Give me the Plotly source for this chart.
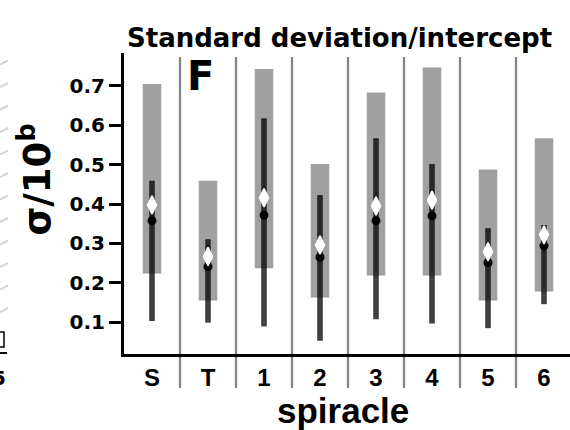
import plotly.graph_objects as go

categories = ["S", "T", "1", "2", "3", "4", "5", "6"]
# light gray range (bar) low/high
range_low = [0.224, 0.155, 0.237, 0.163, 0.219, 0.219, 0.155, 0.178]
range_high = [0.705, 0.459, 0.743, 0.502, 0.683, 0.747, 0.488, 0.567]
# dark interval low/high
ci_low = [0.103, 0.099, 0.089, 0.053, 0.108, 0.097, 0.085, 0.146]
ci_high = [0.459, 0.311, 0.618, 0.423, 0.567, 0.502, 0.339, 0.347]
# point estimates
dot_vals = [0.358, 0.241, 0.372, 0.265, 0.358, 0.370, 0.251, 0.294]
diamond_vals = [0.398, 0.267, 0.416, 0.296, 0.395, 0.410, 0.279, 0.322]
y_ticks = [0.1, 0.2, 0.3, 0.4, 0.5, 0.6, 0.7]

x = list(range(len(categories)))

# plot area in pixels (for decorations outside the data area)
L, R, T, B = 124, 570, 53, 354


def px(xp):
    return (xp - L) / (R - L)


def py(yp):
    return (B - yp) / (B - T)


fig = go.Figure()
fig.add_trace(go.Bar(
    x=x, base=range_low, y=[h - l for h, l in zip(range_high, range_low)],
    width=0.33, marker=dict(color="#a0a0a0", line=dict(width=0)), hoverinfo="skip"))
fig.add_trace(go.Bar(
    x=x, base=ci_low, y=[h - l for h, l in zip(ci_high, ci_low)],
    width=0.1, marker=dict(color="rgba(0,0,0,0.75)", line=dict(width=0)), hoverinfo="skip"))
fig.add_trace(go.Scatter(
    x=x, y=dot_vals, mode="markers",
    marker=dict(symbol="circle", size=9, color="black", line=dict(width=0))))
fig.add_trace(go.Scatter(
    x=x, y=diamond_vals, mode="markers",
    marker=dict(symbol="diamond-tall", size=13, color="white",
                line=dict(width=1.5, color="white"))))

# category separators
for i in range(len(categories) - 1):
    fig.add_shape(type="line", xref="x", yref="paper",
                  x0=i + 0.5, x1=i + 0.5, y0=py(388), y1=py(57),
                  line=dict(color="#858585", width=2.3), layer="below")

# remnants of the neighbouring panel at the left edge
for k in range(12):
    yy = 62 + 22.5 * k
    fig.add_shape(type="line", xref="paper", yref="paper",
                  x0=px(0), x1=px(8), y0=py(yy + 2.5), y1=py(yy - 1.5),
                  line=dict(color="#d4d4d4", width=2))
fig.add_shape(type="path", xref="paper", yref="paper",
              path=f"M {px(0)} {py(332)} L {px(4)} {py(332)} L {px(4)} {py(347)} L {px(0)} {py(347)}",
              line=dict(color="black", width=1.5))
fig.add_shape(type="line", xref="paper", yref="paper",
              x0=px(0), x1=px(7), y0=py(353), y1=py(353),
              line=dict(color="black", width=2))

bold = "DejaVu Sans"
arial = "Liberation Sans"

fig.update_layout(
    width=570, height=430,
    margin=dict(l=L, r=570 - R, t=T, b=430 - B),
    paper_bgcolor="white", plot_bgcolor="white",
    showlegend=False, barmode="overlay",
    xaxis=dict(range=[-0.5, 7.464], tickmode="array", tickvals=x, ticktext=categories,
               showgrid=False, zeroline=False, showline=True, linecolor="black", linewidth=3,
               ticks="",
               tickfont=dict(family=arial, size=24, color="black", weight="bold")),
    yaxis=dict(range=[0.0195, 0.7835], tickmode="array", tickvals=y_ticks,
               ticktext=[f"{v:.1f}" for v in y_ticks],
               showgrid=False, zeroline=False, showline=True, linecolor="black", linewidth=3,
               ticks="outside", ticklen=12, tickwidth=3, tickcolor="black",
               tickfont=dict(family=bold, size=20, color="black", weight="bold")),
)

annotations = [
    dict(text="Standard deviation/intercept", x=0.483, y=0.995, xref="paper", yref="paper",
         xanchor="center", yanchor="bottom", showarrow=False,
         font=dict(family=bold, size=26, color="black", weight="bold")),
    dict(text="spiracle", x=0.49, y=-0.116, xref="paper", yref="paper",
         xanchor="center", yanchor="top", showarrow=False,
         font=dict(family=arial, size=35, color="black", weight="bold")),
    dict(text="σ/10<sup>b</sup>", x=-0.14, y=0.58, xref="paper", yref="paper",
         xanchor="right", yanchor="middle", textangle=-90, showarrow=False,
         font=dict(family=bold, size=37, color="black", weight="bold")),
    dict(text="F", x=0.172, y=1.007, xref="paper", yref="paper",
         xanchor="center", yanchor="top", showarrow=False,
         font=dict(family=bold, size=40, color="black", weight="bold")),
    dict(text="5", x=-0.2805, y=-0.08, xref="paper", yref="paper",
         xanchor="center", yanchor="middle", showarrow=False,
         font=dict(family=bold, size=20, color="black", weight="bold")),
]
fig.update_layout(annotations=annotations)

fig.write_html("out.html", config={"displayModeBar": False},
               post_script="document.body.style.margin='0px';")
